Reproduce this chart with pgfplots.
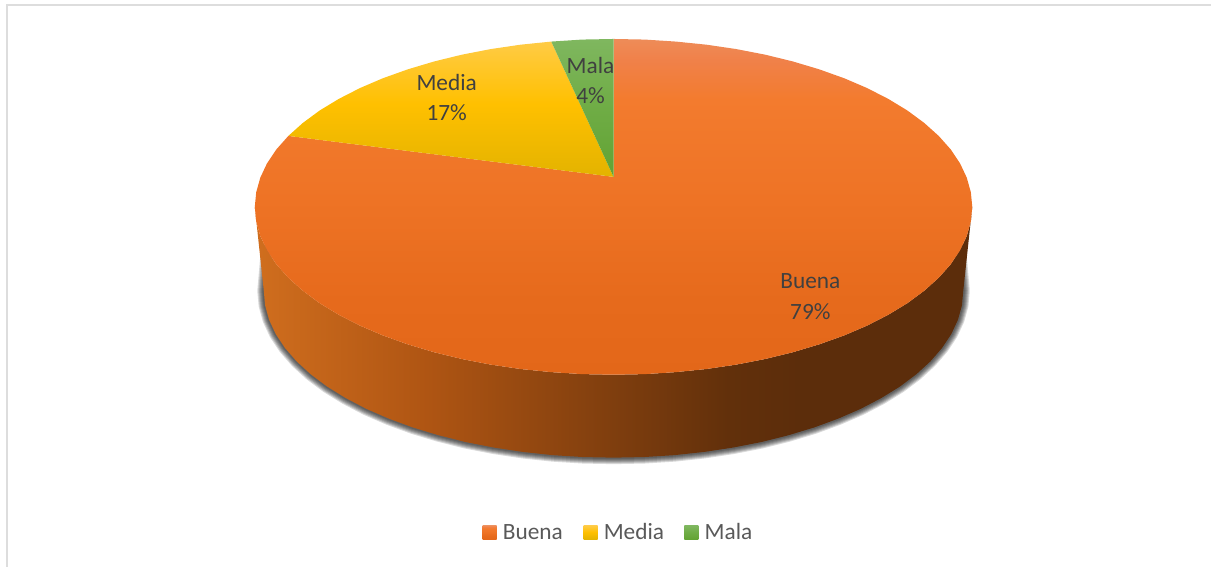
\documentclass[border=0pt]{standalone}
\usepackage{pgfplots}
\usepackage{pgfplotstable}
\usepackage{fontspec}
\setmainfont{Carlito}
\pgfplotsset{compat=1.18}

\definecolor{labeltext}{HTML}{404040}
\definecolor{legendtext}{HTML}{595959}
\definecolor{frameline}{HTML}{DDDDDD}

\definecolor{wallA}{HTML}{D06E1E}
\definecolor{wallB}{HTML}{AF5513}
\definecolor{wallC}{HTML}{7F3E0E}
\definecolor{wallD}{HTML}{62300B}
\definecolor{wallE}{HTML}{5C2D0B}
\definecolor{buenaA}{HTML}{E36719}
\definecolor{buenaB}{HTML}{E66A1C}
\definecolor{buenaC}{HTML}{EE7325}
\definecolor{buenaD}{HTML}{F37B2E}
\definecolor{buenaE}{HTML}{F0814A}
\definecolor{buenaF}{HTML}{EE8C58}
\definecolor{mediaA}{HTML}{E3B300}
\definecolor{mediaB}{HTML}{FFC000}
\definecolor{mediaC}{HTML}{FFCB45}
\definecolor{malaA}{HTML}{62A333}
\definecolor{malaB}{HTML}{70AD47}
\definecolor{malaC}{HTML}{7FB75F}

% path box runs 25bp..75bp of each shading
\pgfdeclarehorizontalshading{sideshade}{100bp}{
  color(0bp)=(wallA); color(25bp)=(wallA); color(37bp)=(wallB);
  color(50bp)=(wallC); color(58bp)=(wallD); color(63bp)=(wallE);
  color(100bp)=(wallE)}
\pgfdeclareverticalshading{buenashade}{100bp}{
  color(0bp)=(buenaA); color(25bp)=(buenaA); color(36bp)=(buenaB);
  color(51bp)=(buenaC); color(66bp)=(buenaD); color(72bp)=(buenaE);
  color(75bp)=(buenaF); color(100bp)=(buenaF)}
\pgfdeclareverticalshading{mediashade}{100bp}{
  color(0bp)=(mediaA); color(25bp)=(mediaA); color(52bp)=(mediaB);
  color(75bp)=(mediaC); color(100bp)=(mediaC)}
\pgfdeclareverticalshading{malashade}{100bp}{
  color(0bp)=(malaA); color(25bp)=(malaA); color(52bp)=(malaB);
  color(75bp)=(malaC); color(100bp)=(malaC)}

\pgfplotstableread{
x y
614 177
614 39
645.3 39.6
676.3 41.6
706.9 44.7
736.8 49.1
765.7 54.7
793.5 61.5
819.9 69.4
844.8 78.3
867.9 88.2
889.0 99.0
908.1 110.6
924.9 123
939.4 136
951.4 149.5
960.8 163.5
967.5 177.8
971.6 192.4
973 207
971.6 221.6
967.5 236.2
960.8 250.5
951.4 264.5
939.4 278
924.9 291
908.1 303.4
889 315
867.9 325.8
844.8 335.7
819.9 344.6
793.5 352.5
765.7 359.3
736.8 364.9
706.9 369.3
676.3 372.4
645.3 374.4
614 375
582.7 374.4
551.7 372.4
521.1 369.3
491.2 364.9
462.3 359.3
434.5 352.5
408.1 344.6
383.2 335.7
360.1 325.8
339 315
319.9 303.4
303.1 291
288.6 278
276.6 264.5
267.2 250.5
260.5 236.2
256.4 221.6
255 207
256.4 192.4
260.5 177.8
267.2 163.5
276.6 149.5
288.6 136
}\buena

\pgfplotstableread{
x y
614 177
288.6 136
303.1 123
319.9 110.6
339 99
360.1 88.2
383.2 78.3
408.1 69.4
434.5 61.5
462.3 54.7
491.2 49.1
521.1 44.7
551.7 41.6
}\media

\pgfplotstableread{
x y
614 177
551.7 41.6
582.7 39.6
614 39
}\mala

% outer edge of the wall, for the shadow
\pgfplotstableread{
x y
960 245
964 291
962.7 305.6
958.7 320
952.1 334.2
942.9 348.1
931.2 361.6
917.1 374.5
900.7 386.8
882.1 398.3
861.5 409.1
839 418.9
814.8 427.8
789 435.6
761.9 442.4
733.7 447.9
704.6 452.3
674.8 455.5
644.5 457.4
614 458
583.5 457.4
553.2 455.5
523.4 452.3
494.3 447.9
466.1 442.4
439 435.6
413.2 427.8
389 418.9
366.5 409.1
345.9 398.3
327.3 386.8
310.9 374.5
296.8 361.6
285.1 348.1
275.9 334.2
269.3 320
265.3 305.6
264 291
268 245
}\lowedge

\pgfplotstableread{
x y
973 207
971.6 221.6
967.5 236.2
960.8 250.5
951.4 264.5
939.4 278
924.9 291
908.1 303.4
889 315
867.9 325.8
844.8 335.7
819.9 344.6
793.5 352.5
765.7 359.3
736.8 364.9
706.9 369.3
676.3 372.4
645.3 374.4
614 375
582.7 374.4
551.7 372.4
521.1 369.3
491.2 364.9
462.3 359.3
434.5 352.5
408.1 344.6
383.2 335.7
360.1 325.8
339 315
319.9 303.4
303.1 291
288.6 278
276.6 264.5
267.2 250.5
260.5 236.2
256.4 221.6
255 207
264 291
265.3 305.6
269.3 320
275.9 334.2
285.1 348.1
296.8 361.6
310.9 374.5
327.3 386.8
345.9 398.3
366.5 409.1
389 418.9
413.2 427.8
439 435.6
466.1 442.4
494.3 447.9
523.4 452.3
553.2 455.5
583.5 457.4
614 458
644.5 457.4
674.8 455.5
704.6 452.3
733.7 447.9
761.9 442.4
789 435.6
814.8 427.8
839 418.9
861.5 409.1
882.1 398.3
900.7 386.8
917.1 374.5
931.2 361.6
942.9 348.1
952.1 334.2
958.7 320
962.7 305.6
964 291
}\wall

\begin{document}
\begin{tikzpicture}
\begin{axis}[
    width=909pt, height=425.25pt,
    scale only axis,
    hide axis,
    clip=false,
    xmin=0, xmax=1212,
    ymin=0, ymax=567,
    y dir=reverse,
    no markers,
]
% keeps the whole canvas in the picture's box
\addplot[forget plot, draw=none] coordinates {(0,0) (1212,567)};

% frame of the chart area
\addplot[forget plot, frameline, line width=1.4pt] coordinates {(7,567) (7,5) (1212,5)};

% shadow
\pgfplotsinvokeforeach{9.75,8.25,6.75,5.25,3.75,2.25}{
  \addplot[forget plot, black, opacity=0.15, line width=#1pt, line join=round] table {\lowedge};
}

% wall, then the three slices
\addplot[forget plot, draw=none, shade, shading=sideshade] table {\wall};
\addplot[forget plot, draw=none, shade, shading=buenashade] table {\buena};
\addplot[forget plot, draw=none, shade, shading=mediashade] table {\media};
\addplot[forget plot, draw=none, shade, shading=malashade] table {\mala};

% legend swatches
\addplot[forget plot, draw=none, shade, shading=buenashade] coordinates {(483,526) (497,526) (497,540) (483,540)};
\addplot[forget plot, draw=none, shade, shading=mediashade] coordinates {(584,526) (598,526) (598,540) (584,540)};
\addplot[forget plot, draw=none, shade, shading=malashade] coordinates {(685,526) (699,526) (699,540) (685,540)};

\tikzset{every node/.style={font=\fontsize{17.5pt}{20pt}\selectfont, inner sep=0pt}}
\node[text=legendtext, anchor=base west] at (axis cs:503,540) {Buena};
\node[text=legendtext, anchor=base west] at (axis cs:604,540) {Media};
\node[text=legendtext, anchor=base west] at (axis cs:705,540) {Mala};

\node[text=labeltext] at (axis cs:811,281) {Buena};
\node[text=labeltext] at (axis cs:811,312) {79\%};
\node[text=labeltext] at (axis cs:447,83) {Media};
\node[text=labeltext] at (axis cs:447,113) {17\%};
\node[text=labeltext] at (axis cs:591,66) {Mala};
\node[text=labeltext] at (axis cs:591,96) {4\%};
\end{axis}
\end{tikzpicture}
\end{document}
